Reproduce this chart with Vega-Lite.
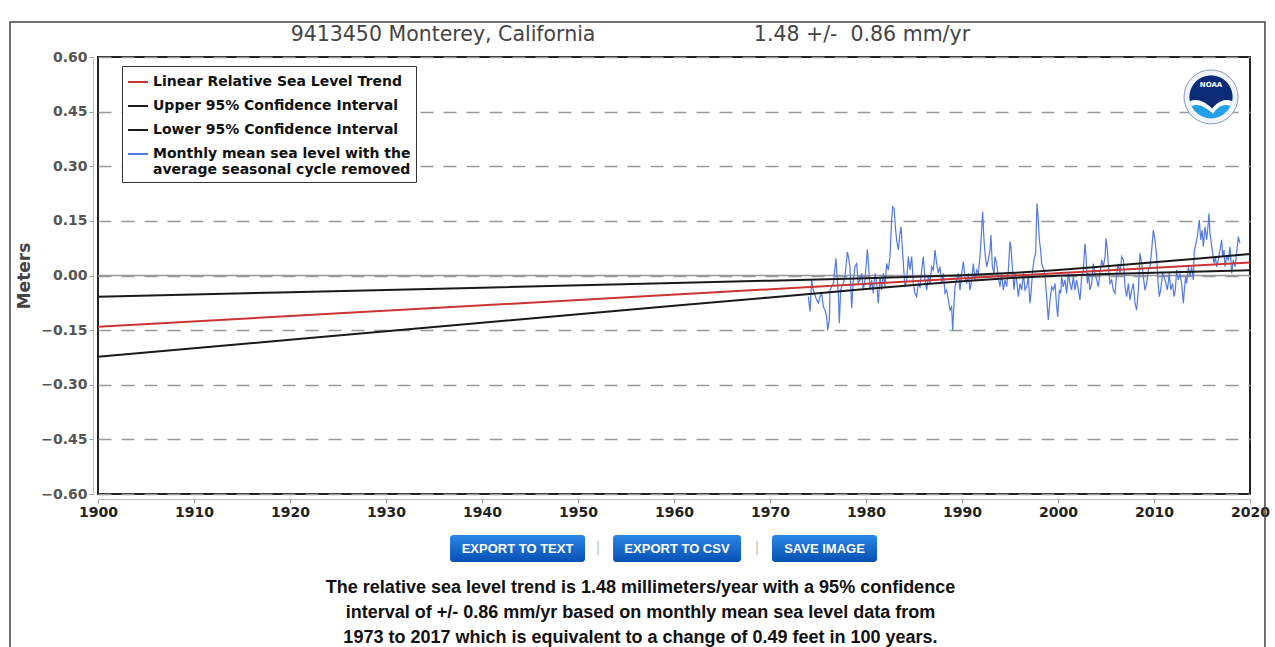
{
  "$schema": "https://vega.github.io/schema/vega-lite/v6.json",
  "width": 1152,
  "height": 437,
  "autosize": {"type": "none"},
  "padding": {"left": 98, "top": 57, "right": 25, "bottom": 153},
  "background": "white",
  "config": {
    "view": {"stroke": "#222", "strokeWidth": 2},
    "font": "DejaVu Sans"
  },
  "datasets": {
    "monthly": [
      {"year":1973.99,"m":-0.058},{"year":1974.17,"m":-0.099},{"year":1974.34,"m":-0.012},{"year":1974.51,"m":-0.040},{"year":1974.86,"m":-0.067},{"year":1975.04,"m":-0.076},{"year":1975.21,"m":-0.058},{"year":1975.38,"m":-0.049},{"year":1975.56,"m":-0.086},{"year":1975.73,"m":-0.095},{"year":1975.90,"m":-0.113},{"year":1976.01,"m":-0.150},{"year":1976.18,"m":-0.122},{"year":1976.25,"m":-0.040},{"year":1976.42,"m":-0.031},{"year":1976.60,"m":-0.022},{"year":1976.87,"m":0.047},{"year":1977.01,"m":-0.012},{"year":1977.12,"m":-0.049},{"year":1977.22,"m":-0.131},{"year":1977.36,"m":-0.040},{"year":1977.47,"m":-0.031},{"year":1977.64,"m":-0.022},{"year":1977.81,"m":-0.003},{"year":1978.06,"m":0.065},{"year":1978.16,"m":0.052},{"year":1978.33,"m":0.024},{"year":1978.51,"m":-0.090},{"year":1978.68,"m":-0.012},{"year":1978.85,"m":0.024},{"year":1979.03,"m":0.033},{"year":1979.20,"m":-0.022},{"year":1979.37,"m":-0.012},{"year":1979.55,"m":0.006},{"year":1979.72,"m":-0.040},{"year":1979.90,"m":-0.012},{"year":1980.14,"m":0.072},{"year":1980.28,"m":0.024},{"year":1980.42,"m":-0.040},{"year":1980.59,"m":-0.012},{"year":1980.76,"m":-0.049},{"year":1980.94,"m":0.006},{"year":1981.11,"m":-0.022},{"year":1981.28,"m":-0.076},{"year":1981.46,"m":-0.003},{"year":1981.63,"m":-0.040},{"year":1981.81,"m":0.006},{"year":1981.98,"m":-0.031},{"year":1982.15,"m":0.033},{"year":1982.33,"m":0.015},{"year":1982.50,"m":0.052},{"year":1982.67,"m":0.152},{"year":1982.78,"m":0.189},{"year":1982.92,"m":0.185},{"year":1983.06,"m":0.134},{"year":1983.19,"m":0.098},{"year":1983.37,"m":0.070},{"year":1983.54,"m":0.116},{"year":1983.65,"m":0.134},{"year":1983.82,"m":0.061},{"year":1983.96,"m":0.006},{"year":1984.06,"m":-0.031},{"year":1984.24,"m":-0.012},{"year":1984.41,"m":0.052},{"year":1984.58,"m":0.015},{"year":1984.76,"m":0.052},{"year":1984.93,"m":-0.022},{"year":1985.10,"m":-0.049},{"year":1985.28,"m":-0.058},{"year":1985.45,"m":-0.022},{"year":1985.62,"m":-0.031},{"year":1985.80,"m":0.015},{"year":1985.97,"m":0.052},{"year":1986.15,"m":-0.012},{"year":1986.32,"m":-0.040},{"year":1986.49,"m":-0.003},{"year":1986.67,"m":-0.022},{"year":1986.84,"m":0.024},{"year":1987.01,"m":0.015},{"year":1987.19,"m":0.070},{"year":1987.36,"m":0.033},{"year":1987.53,"m":0.006},{"year":1987.71,"m":0.024},{"year":1987.88,"m":-0.022},{"year":1988.06,"m":0.006},{"year":1988.23,"m":-0.049},{"year":1988.40,"m":-0.040},{"year":1988.58,"m":-0.067},{"year":1988.75,"m":-0.095},{"year":1988.92,"m":-0.086},{"year":1989.03,"m":-0.150},{"year":1989.17,"m":-0.076},{"year":1989.27,"m":-0.031},{"year":1989.44,"m":-0.012},{"year":1989.62,"m":0.006},{"year":1989.79,"m":-0.040},{"year":1989.97,"m":0.006},{"year":1990.14,"m":0.038},{"year":1990.31,"m":-0.003},{"year":1990.49,"m":-0.022},{"year":1990.66,"m":0.006},{"year":1990.83,"m":-0.040},{"year":1991.01,"m":-0.012},{"year":1991.18,"m":0.033},{"year":1991.35,"m":-0.012},{"year":1991.53,"m":0.015},{"year":1991.70,"m":0.006},{"year":1991.87,"m":0.052},{"year":1992.05,"m":0.125},{"year":1992.15,"m":0.175},{"year":1992.29,"m":0.098},{"year":1992.43,"m":0.052},{"year":1992.57,"m":0.024},{"year":1992.74,"m":0.043},{"year":1992.92,"m":0.070},{"year":1993.02,"m":0.111},{"year":1993.16,"m":0.024},{"year":1993.33,"m":0.006},{"year":1993.44,"m":0.052},{"year":1993.61,"m":0.033},{"year":1993.78,"m":-0.003},{"year":1993.96,"m":-0.031},{"year":1994.13,"m":0.006},{"year":1994.30,"m":-0.040},{"year":1994.48,"m":-0.012},{"year":1994.65,"m":-0.031},{"year":1994.83,"m":0.015},{"year":1995.00,"m":0.093},{"year":1995.10,"m":0.079},{"year":1995.24,"m":0.024},{"year":1995.42,"m":-0.040},{"year":1995.56,"m":0.006},{"year":1995.69,"m":-0.012},{"year":1995.87,"m":-0.058},{"year":1996.04,"m":-0.022},{"year":1996.22,"m":-0.040},{"year":1996.39,"m":0.006},{"year":1996.56,"m":-0.040},{"year":1996.74,"m":-0.031},{"year":1996.91,"m":-0.003},{"year":1997.08,"m":-0.076},{"year":1997.19,"m":-0.049},{"year":1997.36,"m":0.015},{"year":1997.50,"m":0.043},{"year":1997.67,"m":0.061},{"year":1997.81,"m":0.198},{"year":1997.95,"m":0.152},{"year":1998.06,"m":0.098},{"year":1998.19,"m":0.070},{"year":1998.30,"m":0.033},{"year":1998.40,"m":0.024},{"year":1998.54,"m":0.015},{"year":1998.65,"m":-0.003},{"year":1998.82,"m":-0.058},{"year":1998.99,"m":-0.122},{"year":1999.17,"m":-0.067},{"year":1999.34,"m":-0.031},{"year":1999.51,"m":-0.040},{"year":1999.69,"m":-0.022},{"year":1999.86,"m":-0.086},{"year":1999.97,"m":-0.113},{"year":2000.14,"m":-0.040},{"year":2000.28,"m":-0.049},{"year":2000.38,"m":-0.003},{"year":2000.55,"m":-0.031},{"year":2000.73,"m":-0.012},{"year":2000.90,"m":-0.049},{"year":2001.08,"m":0.006},{"year":2001.25,"m":-0.022},{"year":2001.42,"m":-0.040},{"year":2001.60,"m":-0.003},{"year":2001.77,"m":-0.040},{"year":2001.94,"m":-0.012},{"year":2002.12,"m":-0.040},{"year":2002.29,"m":-0.067},{"year":2002.47,"m":-0.003},{"year":2002.64,"m":0.015},{"year":2002.81,"m":0.088},{"year":2002.92,"m":0.052},{"year":2003.06,"m":-0.022},{"year":2003.16,"m":0.006},{"year":2003.33,"m":-0.040},{"year":2003.51,"m":-0.022},{"year":2003.68,"m":0.033},{"year":2003.85,"m":0.006},{"year":2004.03,"m":-0.012},{"year":2004.20,"m":-0.031},{"year":2004.38,"m":0.006},{"year":2004.55,"m":0.043},{"year":2004.72,"m":0.024},{"year":2004.90,"m":0.052},{"year":2005.00,"m":0.102},{"year":2005.14,"m":0.070},{"year":2005.31,"m":0.006},{"year":2005.42,"m":-0.022},{"year":2005.59,"m":-0.012},{"year":2005.76,"m":-0.040},{"year":2005.94,"m":-0.049},{"year":2006.11,"m":0.006},{"year":2006.28,"m":0.033},{"year":2006.46,"m":0.006},{"year":2006.63,"m":0.052},{"year":2006.81,"m":0.043},{"year":2006.98,"m":-0.031},{"year":2007.15,"m":-0.058},{"year":2007.33,"m":-0.022},{"year":2007.50,"m":-0.067},{"year":2007.67,"m":-0.040},{"year":2007.85,"m":-0.022},{"year":2008.02,"m":-0.076},{"year":2008.19,"m":-0.095},{"year":2008.37,"m":-0.040},{"year":2008.54,"m":0.061},{"year":2008.72,"m":0.033},{"year":2008.89,"m":-0.003},{"year":2009.06,"m":-0.040},{"year":2009.24,"m":-0.022},{"year":2009.41,"m":0.015},{"year":2009.58,"m":0.024},{"year":2009.76,"m":0.070},{"year":2009.93,"m":0.125},{"year":2010.10,"m":0.098},{"year":2010.28,"m":0.052},{"year":2010.45,"m":-0.031},{"year":2010.55,"m":-0.058},{"year":2010.69,"m":-0.040},{"year":2010.90,"m":0.006},{"year":2011.04,"m":-0.003},{"year":2011.25,"m":-0.022},{"year":2011.39,"m":-0.040},{"year":2011.60,"m":0.006},{"year":2011.74,"m":-0.040},{"year":2011.94,"m":-0.022},{"year":2012.08,"m":-0.058},{"year":2012.22,"m":-0.040},{"year":2012.36,"m":0.015},{"year":2012.53,"m":-0.012},{"year":2012.71,"m":0.006},{"year":2012.88,"m":-0.022},{"year":2013.06,"m":-0.076},{"year":2013.16,"m":-0.040},{"year":2013.30,"m":-0.003},{"year":2013.40,"m":-0.022},{"year":2013.58,"m":0.024},{"year":2013.75,"m":-0.003},{"year":2013.92,"m":0.024},{"year":2014.10,"m":-0.012},{"year":2014.20,"m":0.070},{"year":2014.38,"m":0.088},{"year":2014.51,"m":0.107},{"year":2014.72,"m":0.152},{"year":2014.86,"m":0.098},{"year":2015.00,"m":0.125},{"year":2015.14,"m":0.079},{"year":2015.31,"m":0.134},{"year":2015.49,"m":0.098},{"year":2015.62,"m":0.134},{"year":2015.73,"m":0.171},{"year":2015.83,"m":0.116},{"year":2015.97,"m":0.088},{"year":2016.11,"m":0.061},{"year":2016.25,"m":0.033},{"year":2016.39,"m":0.052},{"year":2016.53,"m":0.024},{"year":2016.70,"m":0.043},{"year":2016.88,"m":0.070},{"year":2017.05,"m":0.098},{"year":2017.15,"m":0.052},{"year":2017.29,"m":0.070},{"year":2017.40,"m":0.024},{"year":2017.57,"m":0.052},{"year":2017.74,"m":0.043},{"year":2017.92,"m":0.079},{"year":2018.09,"m":0.006},{"year":2018.26,"m":0.043},{"year":2018.44,"m":0.024},{"year":2018.61,"m":0.061},{"year":2018.78,"m":0.107},{"year":2018.96,"m":0.088}
    ],
    "trend": [
      {"series":"Linear Relative Sea Level Trend","year":1900,"m":-0.141},
      {"series":"Linear Relative Sea Level Trend","year":2020,"m":0.036},
      {"series":"Upper 95% Confidence Interval","year":1900,"m":-0.0584},
      {"series":"Upper 95% Confidence Interval","year":1920,"m":-0.0459},
      {"series":"Upper 95% Confidence Interval","year":1940,"m":-0.0334},
      {"series":"Upper 95% Confidence Interval","year":1960,"m":-0.0207},
      {"series":"Upper 95% Confidence Interval","year":1970,"m":-0.0142},
      {"series":"Upper 95% Confidence Interval","year":1980,"m":-0.0074},
      {"series":"Upper 95% Confidence Interval","year":1985,"m":-0.0036},
      {"series":"Upper 95% Confidence Interval","year":1990,"m":0.0007},
      {"series":"Upper 95% Confidence Interval","year":1995.5,"m":0.0074},
      {"series":"Upper 95% Confidence Interval","year":2000,"m":0.0151},
      {"series":"Upper 95% Confidence Interval","year":2005,"m":0.0253},
      {"series":"Upper 95% Confidence Interval","year":2010,"m":0.0362},
      {"series":"Upper 95% Confidence Interval","year":2015,"m":0.0475},
      {"series":"Upper 95% Confidence Interval","year":2020,"m":0.059},
      {"series":"Lower 95% Confidence Interval","year":1900,"m":-0.2232},
      {"series":"Lower 95% Confidence Interval","year":1920,"m":-0.1765},
      {"series":"Lower 95% Confidence Interval","year":1940,"m":-0.1298},
      {"series":"Lower 95% Confidence Interval","year":1960,"m":-0.0833},
      {"series":"Lower 95% Confidence Interval","year":1970,"m":-0.0602},
      {"series":"Lower 95% Confidence Interval","year":1980,"m":-0.0374},
      {"series":"Lower 95% Confidence Interval","year":1985,"m":-0.0264},
      {"series":"Lower 95% Confidence Interval","year":1990,"m":-0.0159},
      {"series":"Lower 95% Confidence Interval","year":1995.5,"m":-0.0064},
      {"series":"Lower 95% Confidence Interval","year":2000,"m":-0.0007},
      {"series":"Lower 95% Confidence Interval","year":2005,"m":0.0039},
      {"series":"Lower 95% Confidence Interval","year":2010,"m":0.0078},
      {"series":"Lower 95% Confidence Interval","year":2015,"m":0.0113},
      {"series":"Lower 95% Confidence Interval","year":2020,"m":0.0146}
    ]
  },
  "layer": [
    {
      "data": {"values": [{"m": 0}]},
      "mark": {"type": "rule", "color": "#999", "strokeWidth": 1.5},
      "encoding": {
        "y": {"field": "m", "type": "quantitative", "title": "Meters"}
      }
    },
    {
      "data": {"name": "monthly"},
      "mark": {"type": "line", "strokeWidth": 1.2},
      "encoding": {
        "x": {
          "field": "year", "type": "quantitative", "title": null,
          "scale": {"domain": [1900, 2020], "nice": false, "zero": false},
          "axis": {
            "values": [1900,1910,1920,1930,1940,1950,1960,1970,1980,1990,2000,2010,2020],
            "format": "d", "title": null, "grid": false, "offset": 5, "labelFlush": false,
            "labelFont": "DejaVu Sans", "labelFontSize": 14, "labelFontWeight": "bold", "labelColor": "#222",
            "labelPadding": 2, "tickColor": "#999", "tickSize": 4, "domainColor": "#bbb"
          }
        },
        "y": {
          "field": "m", "type": "quantitative", "title": "Meters",
          "scale": {"domain": [-0.6, 0.6], "nice": false, "zero": false},
          "axis": {
            "values": [-0.6,-0.45,-0.3,-0.15,0,0.15,0.3,0.45,0.6],
            "labelExpr": "datum.value < 0 ? '\u2212' + format(-datum.value, '.2f') : format(datum.value, '.2f')",
            "title": "Meters", "titleFont": "DejaVu Sans", "titleFontSize": 17, "titleFontWeight": "bold", "titleColor": "#444", "titlePadding": 7,
            "offset": 5, "labelFlush": false, "labelFont": "DejaVu Sans", "labelFontSize": 14, "labelFontWeight": "bold", "labelColor": "#555",
            "labelPadding": 2, "tickColor": "#999", "tickSize": 4, "domainColor": "#bbb",
            "grid": true, "gridDash": [13, 10], "gridColor": "#999", "gridWidth": 1.5
          }
        },
        "color": {
          "datum": "Monthly mean sea level with the average seasonal cycle removed",
          "type": "nominal",
          "scale": {
            "domain": ["Linear Relative Sea Level Trend", "Upper 95% Confidence Interval", "Lower 95% Confidence Interval", "Monthly mean sea level with the average seasonal cycle removed"],
            "range": ["#cc3333", "#1a1a1a", "#1a1a1a", "#5279e4"]
          },
          "legend": {
            "title": null, "orient": "none", "legendX": 24, "legendY": 9,
            "strokeColor": "#333", "fillColor": "white", "padding": 5,
            "symbolType": "stroke", "symbolSize": 400, "symbolStrokeWidth": 2,
            "labelFont": "DejaVu Sans", "labelFontSize": 14, "labelFontWeight": "bold", "labelColor": "#111",
            "rowPadding": 6, "labelLimit": 400,
            "labelExpr": "datum.label == 'Monthly mean sea level with the average seasonal cycle removed' ? ['Monthly mean sea level with the', '\u00a0\u00a0average seasonal cycle removed'] : datum.label"
          }
        }
      }
    },
    {
      "data": {"name": "trend"},
      "mark": {"type": "line", "strokeWidth": 2},
      "encoding": {
        "x": {"field": "year", "type": "quantitative", "title": null},
        "y": {"field": "m", "type": "quantitative", "title": "Meters"},
        "color": {"field": "series", "type": "nominal", "legend": null}
      }
    },
    {
      "data": {"values": [{}]},
      "mark": {"type": "text", "fontSize": 20.5, "font": "DejaVu Sans", "color": "#444", "align": "center", "baseline": "middle"},
      "encoding": {
        "x": {"datum": 1935.94, "type": "quantitative"},
        "y": {"datum": 0.6607, "type": "quantitative"},
        "text": {"value": "9413450 Monterey, California"}
      }
    },
    {
      "data": {"values": [{}]},
      "mark": {"type": "text", "fontSize": 20.5, "font": "DejaVu Sans", "color": "#444", "align": "center", "baseline": "middle"},
      "encoding": {
        "x": {"datum": 1979.58, "type": "quantitative"},
        "y": {"datum": 0.6607, "type": "quantitative"},
        "text": {"value": "1.48 +/-\u00a0 0.86 mm/yr"}
      }
    },
    {
      "data": {"values": [{}]},
      "mark": {"type": "rect", "filled": false, "stroke": "#444", "strokeWidth": 1.5},
      "encoding": {
        "x": {"datum": 1890.83, "type": "quantitative"},
        "x2": {"datum": 2021.56},
        "y": {"datum": 0.6964, "type": "quantitative"},
        "y2": {"datum": -1.06}
      }
    },
    {
      "data": {"values": [{}]},
      "mark": {"type": "point", "shape": "circle", "size": 2916, "filled": true, "fill": "#f2f4fa", "stroke": "#8a9ac8", "strokeWidth": 1, "opacity": 1},
      "encoding": {"x": {"datum": 2015.94, "type": "quantitative"}, "y": {"datum": 0.4904, "type": "quantitative"}}
    },
    {
      "data": {"values": [{}]},
      "mark": {"type": "point", "shape": "circle", "size": 1849, "filled": true, "fill": "#22a0ea", "strokeWidth": 0, "opacity": 1},
      "encoding": {"x": {"datum": 2015.94, "type": "quantitative"}, "y": {"datum": 0.4904, "type": "quantitative"}}
    },
    {
      "data": {"values": [{}]},
      "mark": {"type": "point", "shape": "M -0.98 0.2 A 1 1 0 1 1 0.98 0.2 C 0.6 0.05 0.3 0.25 0.05 0.55 C -0.25 0.25 -0.6 0.05 -0.98 0.2 Z", "size": 1849, "filled": true, "fill": "#0b2a78", "strokeWidth": 0, "opacity": 1},
      "encoding": {"x": {"datum": 2015.94, "type": "quantitative"}, "y": {"datum": 0.4904, "type": "quantitative"}}
    },
    {
      "data": {"values": [{}]},
      "mark": {"type": "point", "shape": "M -0.98 0.2 C -0.6 0.05 -0.25 0.25 0.05 0.55 C 0.3 0.25 0.6 0.05 0.98 0.2 L 0.9 0.42 C 0.6 0.3 0.3 0.45 0.1 0.78 C -0.3 0.42 -0.6 0.3 -0.9 0.42 Z", "size": 1849, "filled": true, "fill": "white", "strokeWidth": 0, "opacity": 1},
      "encoding": {"x": {"datum": 2015.94, "type": "quantitative"}, "y": {"datum": 0.4904, "type": "quantitative"}}
    },
    {
      "data": {"values": [{}]},
      "mark": {"type": "text", "fontSize": 7, "fontWeight": "bold", "font": "DejaVu Sans", "color": "white", "align": "center", "baseline": "middle"},
      "encoding": {"x": {"datum": 2015.94, "type": "quantitative"}, "y": {"datum": 0.5234, "type": "quantitative"}, "text": {"value": "NOAA"}}
    },
    {
      "data": {"values": [{}]},
      "mark": {"type": "rect", "cornerRadius": 3, "fill": {"gradient": "linear", "x1": 0, "y1": 0, "x2": 0, "y2": 1, "stops": [{"offset": 0, "color": "#2a86e6"}, {"offset": 1, "color": "#0650b4"}]}},
      "encoding": {"x": {"datum": 1936.67, "type": "quantitative"}, "x2": {"datum": 1950.73}, "y": {"datum": -0.7129, "type": "quantitative"}, "y2": {"datum": -0.787}}
    },
    {
      "data": {"values": [{}]},
      "mark": {"type": "rect", "cornerRadius": 3, "fill": {"gradient": "linear", "x1": 0, "y1": 0, "x2": 0, "y2": 1, "stops": [{"offset": 0, "color": "#2a86e6"}, {"offset": 1, "color": "#0650b4"}]}},
      "encoding": {"x": {"datum": 1953.65, "type": "quantitative"}, "x2": {"datum": 1966.98}, "y": {"datum": -0.7129, "type": "quantitative"}, "y2": {"datum": -0.787}}
    },
    {
      "data": {"values": [{}]},
      "mark": {"type": "rect", "cornerRadius": 3, "fill": {"gradient": "linear", "x1": 0, "y1": 0, "x2": 0, "y2": 1, "stops": [{"offset": 0, "color": "#2a86e6"}, {"offset": 1, "color": "#0650b4"}]}},
      "encoding": {"x": {"datum": 1970.21, "type": "quantitative"}, "x2": {"datum": 1981.15}, "y": {"datum": -0.7129, "type": "quantitative"}, "y2": {"datum": -0.787}}
    },
    {
      "data": {"values": [{}]},
      "mark": {"type": "text", "fontSize": 13, "fontWeight": "bold", "font": "Liberation Sans", "color": "white", "align": "center", "baseline": "middle"},
      "encoding": {"x": {"datum": 1943.7, "type": "quantitative"}, "y": {"datum": -0.75, "type": "quantitative"}, "text": {"value": "EXPORT TO TEXT"}}
    },
    {
      "data": {"values": [{}]},
      "mark": {"type": "text", "fontSize": 13, "fontWeight": "bold", "font": "Liberation Sans", "color": "white", "align": "center", "baseline": "middle"},
      "encoding": {"x": {"datum": 1960.31, "type": "quantitative"}, "y": {"datum": -0.75, "type": "quantitative"}, "text": {"value": "EXPORT TO CSV"}}
    },
    {
      "data": {"values": [{}]},
      "mark": {"type": "text", "fontSize": 13, "fontWeight": "bold", "font": "Liberation Sans", "color": "white", "align": "center", "baseline": "middle"},
      "encoding": {"x": {"datum": 1975.68, "type": "quantitative"}, "y": {"datum": -0.75, "type": "quantitative"}, "text": {"value": "SAVE IMAGE"}}
    },
    {
      "data": {"values": [{}]},
      "mark": {"type": "text", "fontSize": 14, "font": "Liberation Sans", "color": "#bbb", "align": "center", "baseline": "middle"},
      "encoding": {"x": {"datum": 1952.08, "type": "quantitative"}, "y": {"datum": -0.748, "type": "quantitative"}, "text": {"value": "|"}}
    },
    {
      "data": {"values": [{}]},
      "mark": {"type": "text", "fontSize": 14, "font": "Liberation Sans", "color": "#bbb", "align": "center", "baseline": "middle"},
      "encoding": {"x": {"datum": 1968.65, "type": "quantitative"}, "y": {"datum": -0.748, "type": "quantitative"}, "text": {"value": "|"}}
    },
    {
      "data": {"values": [{}]},
      "mark": {"type": "text", "fontSize": 18, "fontWeight": "bold", "font": "Liberation Sans", "color": "#111", "align": "center", "baseline": "alphabetic", "lineHeight": 25},
      "encoding": {
        "x": {"datum": 1956.51, "type": "quantitative"},
        "y": {"datum": -0.8723, "type": "quantitative"},
        "text": {"value": ["The relative sea level trend is 1.48 millimeters/year with a 95% confidence", "interval of +/- 0.86 mm/yr based on monthly mean sea level data from", "1973 to 2017 which is equivalent to a change of 0.49 feet in 100 years."]}
      }
    }
  ]
}
